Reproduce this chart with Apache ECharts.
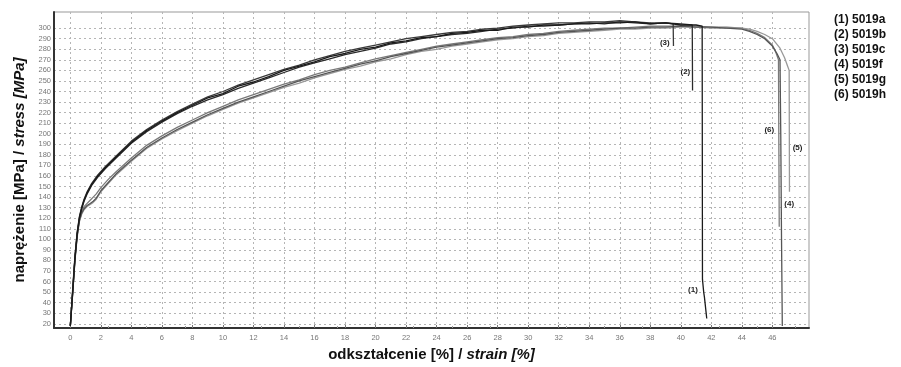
<!DOCTYPE html>
<html><head><meta charset="utf-8">
<script src="https://cdn.jsdelivr.net/npm/echarts@6/dist/echarts.min.js"></script>
<style>html,body{margin:0;padding:0;background:#fff}#c{width:901px;height:367px}</style>
</head><body><div id="c"></div>
<script>
// ---- data ----
const seriesNames = ['(1) 5019a','(2) 5019b','(3) 5019c','(4) 5019f','(5) 5019g','(6) 5019h'];
const xTicks = [0,2,4,6,8,10,12,14,16,18,20,22,24,26,28,30,32,34,36,38,40,42,44,46];
const yTicks = [20,30,40,50,60,70,80,90,100,110,120,130,140,150,160,170,180,190,200,210,220,230,240,250,260,270,280,290,300];

const strain1 = [0,0.15,0.3,0.45,0.6,0.75,0.9,1.1,1.4,1.8,2.3,3,4,5,6,7,8,9,10,11,12,13,14,15,16,17,18,19,20,21,22,23,24,25,26,27,28,29,30,31,32,33,34,35,36,37,38,39,40,41,41.4,41.42,41.5,41.55,41.7];
const stress1 = [18,50,82,106,121,130,137,144,152,160,168,178,192,203,212,220,227,234,238,245,249,254,260,264,268,273,276,280,282,286,288,291,292,295,296,298,298,301,301,303,303,304,304,305,305,306,304,305,303,303,302,62,50,45,25];

const strain2 = [0,0.15,0.3,0.45,0.6,0.75,0.9,1.1,1.4,1.8,2.3,3,4,5,6,7,8,9,10,11,12,13,14,15,16,17,18,19,20,21,22,23,24,25,26,27,28,29,30,31,32,33,34,35,36,37,38,39,40,40.75,40.77];
const stress2 = [18,48,80,104,120,129,136,143,151,159,167,177,191,202,211,219,226,232,237,243,248,253,258,263,267,271,275,278,281,285,287,290,292,294,295,297,299,300,302,302,303,304,305,304,306,305,304,305,304,303,241];

const strain3 = [0,0.15,0.3,0.45,0.6,0.75,0.9,1.1,1.4,1.8,2.3,3,4,5,6,7,8,9,10,11,12,13,14,15,16,17,18,19,20,21,22,23,24,25,26,27,28,29,30,31,32,33,34,35,36,37,38,39,39.5,39.52];
const stress3 = [18,52,84,107,122,131,138,145,153,161,169,179,193,204,213,221,228,235,240,246,251,256,261,265,270,274,278,281,284,287,290,292,294,296,297,299,300,302,303,304,305,305,306,306,307,306,305,305,304,283];

const strain4 = [0,0.15,0.3,0.45,0.6,0.75,0.9,1.1,1.3,1.5,1.7,2,2.5,3,4,5,6,7,8,9,10,11,12,13,14,15,16,17,18,19,20,21,22,23,24,25,26,27,28,29,30,31,32,33,34,35,36,37,38,39,40,41,42,43,44,44.5,45,45.5,46,46.3,46.5,46.55,46.6,46.65];
const stress4 = [18,49,81,104,118,125,129,132,134,136,139,146,154,162,175,187,196,204,211,218,224,230,235,240,245,250,254,258,262,266,269,273,276,279,282,284,286,288,290,291,293,294,296,297,298,299,300,300,301,301,302,301,301,300,299,297,294,290,283,276,270,200,100,18];

const strain5 = [0,0.15,0.3,0.45,0.6,0.75,0.9,1.1,1.3,1.5,1.7,2,2.5,3,4,5,6,7,8,9,10,11,12,13,14,15,16,17,18,19,20,21,22,23,24,25,26,27,28,29,30,31,32,33,34,35,36,37,38,39,40,41,42,43,44,44.5,45,45.5,46,46.5,46.8,47,47.1,47.12];
const stress5 = [18,47,79,102,117,124,128,131,133,135,138,145,153,161,174,186,195,203,210,217,223,229,234,239,244,248,253,257,261,264,268,271,275,278,280,283,285,287,289,290,292,293,295,296,297,298,299,299,300,300,301,301,300,300,300,299,297,294,290,281,272,264,260,145];

const strain6 = [0,0.15,0.3,0.45,0.6,0.75,0.9,1.1,1.3,1.5,1.7,2,2.5,3,4,5,6,7,8,9,10,11,12,13,14,15,16,17,18,19,20,21,22,23,24,25,26,27,28,29,30,31,32,33,34,35,36,37,38,39,40,41,42,43,44,44.5,45,45.5,46,46.2,46.4,46.45];
const stress6 = [18,50,82,105,119,126,131,134,137,140,143,149,157,164,177,189,198,206,213,220,226,232,237,242,247,251,256,260,263,267,271,274,277,280,283,285,287,289,291,292,294,295,297,298,299,300,300,301,302,302,302,302,301,301,300,298,295,291,284,278,270,112];

const curveTags = ['(1)','(2)','(3)','(4)','(5)','(6)'];
const tagStrain = [40.8,40.3,38.95,47.1,47.65,45.8];
const tagStress = [52,259,286,134,187,204];

// ---- chart ----
const strains = [strain1,strain2,strain3,strain4,strain5,strain6];
const stresses = [stress1,stress2,stress3,stress4,stress5,stress6];
const colors = ['#1a1a1a','#2a2a2a','#3a3a3a','#555555','#999999','#7a7a7a'];
const FONT = 'Liberation Sans, Arial, sans-serif';

const series = seriesNames.map((n,i)=>({
  name:n, type:'line', showSymbol:false, symbol:'none',
  data: strains[i].map((x,k)=>[x,stresses[i][k]]),
  lineStyle:{color:colors[i], width:1.3},
  itemStyle:{color:colors[i]},
  z: 10-i,
  markPoint:{
    symbol:'circle', symbolSize:0, silent:true,
    data:[{coord:[tagStrain[i],tagStress[i]], value:curveTags[i]}],
    label:{show:true, formatter:curveTags[i], color:'#222', fontSize:8, fontWeight:'bold', fontFamily:FONT, position:'inside'}
  }
}));

const chart = echarts.init(document.getElementById('c'), null, {renderer:'canvas'});
chart.setOption({
  animation:false,
  backgroundColor:'#fff',
  grid:{left:54, top:12, right:92, bottom:36, show:true, borderColor:'#999', borderWidth:1, backgroundColor:'transparent'},
  legend:{
    orient:'vertical', left:824, top:9, itemWidth:0, itemHeight:0, itemGap:3, icon:'rect',
    selectedMode:false,
    textStyle:{fontFamily:FONT, fontSize:12, fontWeight:'bold', color:'#111', padding:[0,0,0,0]},
    data:seriesNames
  },
  xAxis:{
    type:'value', min:-1.07, max:48.4,
    name:'{a|odkształcenie [%] / }{b|strain [%]}', nameLocation:'middle', nameGap:19,
    nameTextStyle:{rich:{a:{fontFamily:FONT,fontSize:15,fontWeight:'bold',color:'#111'},b:{fontFamily:FONT,fontSize:15,fontWeight:'bold',fontStyle:'italic',color:'#111'}}},
    axisLine:{show:true, onZero:false, lineStyle:{color:'#333', width:2}},
    axisTick:{show:true, inside:true, length:3, customValues:xTicks, lineStyle:{color:'#777'}},
    minorTick:{show:true, splitNumber:4, length:2, lineStyle:{color:'#999'}},
    axisLabel:{customValues:xTicks, fontSize:7.5, color:'#777', fontFamily:FONT, margin:6},
    splitLine:{show:true, lineStyle:{color:'#b5b5b5', type:[2,3], width:1}}
  },
  yAxis:{
    type:'value', min:16, max:315.3,
    name:'{a|naprężenie [MPa] / }{b|stress [MPa]}', nameLocation:'middle', nameGap:22, nameRotate:90,
    nameTextStyle:{rich:{a:{fontFamily:FONT,fontSize:15,fontWeight:'bold',color:'#111'},b:{fontFamily:FONT,fontSize:15,fontWeight:'bold',fontStyle:'italic',color:'#111'}}},
    axisLine:{show:true, onZero:false, lineStyle:{color:'#333', width:2}},
    axisTick:{show:false, customValues:yTicks},
    axisLabel:{customValues:yTicks, fontSize:7.5, color:'#777', fontFamily:FONT, margin:3},
    splitLine:{show:true, lineStyle:{color:'#b5b5b5', type:[2,3], width:1}}
  },
  series:series
});
</script></body></html>
